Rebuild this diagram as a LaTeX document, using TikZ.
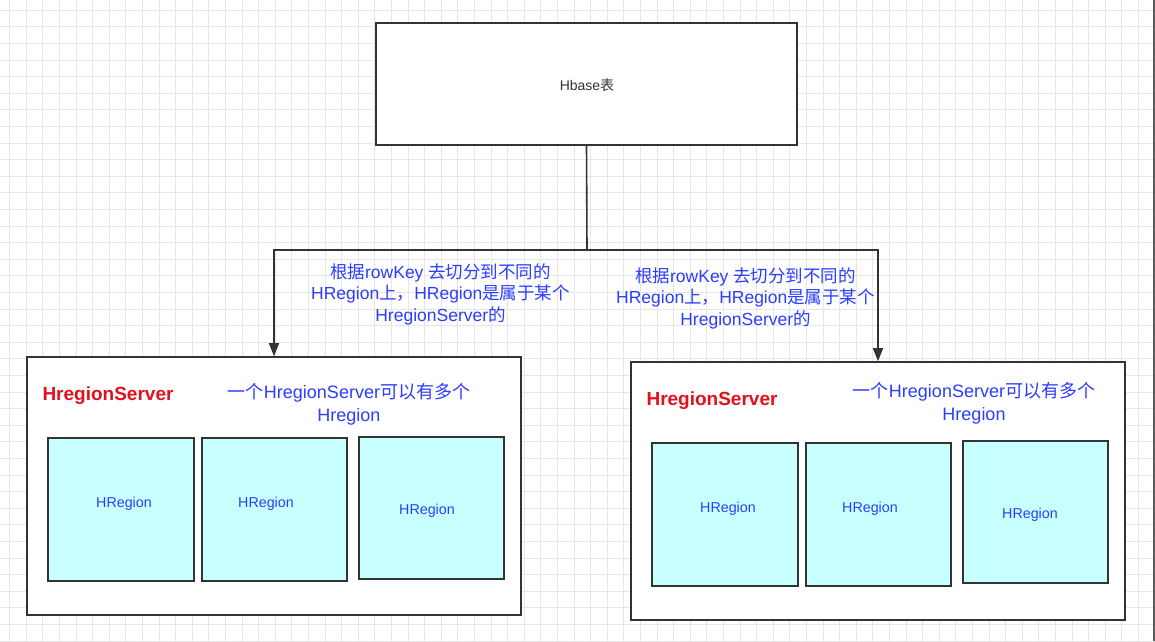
\documentclass[tikz,border=0pt]{standalone}
\usepackage{fontspec}
\setmainfont{Liberation Sans}
\newfontfamily\cjk{Noto Sans CJK SC}
\usetikzlibrary{arrows.meta}

\definecolor{regfill}{HTML}{C8FFFF}
\definecolor{noteblue}{HTML}{2B3DFF}
\definecolor{srvred}{HTML}{E3101E}
\definecolor{edgegray}{HTML}{333333}
\definecolor{gridgray}{HTML}{E6E6E6}

\tikzset{
  box/.style={draw=edgegray, line width=1.6pt, inner sep=0pt},
  srvbox/.style={box, fill=white, minimum width=494pt, minimum height=258pt},
  regbox/.style={box, fill=regfill, minimum width=145pt, minimum height=143pt},
  regtxt/.style={font={\fontsize{14.3}{16}\selectfont}, noteblue},
  note/.style={font={\fontsize{17.5}{21.5}\selectfont}, noteblue, align=center},
  srvnote/.style={font={\fontsize{18}{23}\selectfont}, noteblue, align=center},
  srvname/.style={font={\fontsize{19}{22}\selectfont\bfseries}, srvred},
  conn/.style={draw=edgegray, line width=1.6pt, -{Triangle[length=13pt,width=10pt]}},
  gridln/.style={gridgray, line width=0.6pt}
}

\begin{document}
\begin{tikzpicture}[x=1pt, y=-1pt]
    \fill[white] (0,0) rectangle (1155,641);
    \useasboundingbox (0,0) rectangle (1155,641);
    % background grid
    \foreach \gx in {9.5,26.1,...,1150} \draw[gridln] (\gx,0) -- (\gx,641);
    \foreach \gy in {10,26.6,...,641} \draw[gridln] (0,\gy) -- (1155,\gy);
    \draw[black!65, line width=2pt] (1154,0) -- (1154,641);

    % table
    \node[box, fill=white, minimum width=421pt, minimum height=122pt] (hbase) at (586.5, 84) {};
    \node[font={\fontsize{14}{16}\selectfont}, black!80] (hbasetxt) at (587, 85) {Hbase{\cjk 表}};

    % region servers
    \node[srvbox] (rs1) at (274, 486) {};
    \node[srvbox] (rs2) at (878, 491) {};

    \node[srvname] (name1) at (108, 396) {HregionServer};
    \node[srvname] (name2) at (712, 401) {HregionServer};
    \node[srvnote] (cnt1) at (349, 404) {{\cjk 一个}HregionServer{\cjk 可以有多个}\\Hregion};
    \node[srvnote] (cnt2) at (974, 403) {{\cjk 一个}HregionServer{\cjk 可以有多个}\\Hregion};

    % regions
    \node[regbox, minimum width=146pt] (r11) at (121, 509.5) {};
    \node[regbox] (r12) at (274.5, 509.5) {};
    \node[regbox, minimum height=142pt] (r13) at (431.5, 508) {};
    \node[regbox, minimum width=146pt] (r21) at (725, 514.5) {};
    \node[regbox] (r22) at (878.5, 514.5) {};
    \node[regbox, minimum height=142pt] (r23) at (1035.5, 512) {};

    \node[regtxt] (t11) at (124, 503.5) {HRegion};
    \node[regtxt] (t12) at (266, 503.5) {HRegion};
    \node[regtxt] (t13) at (427, 510.5) {HRegion};
    \node[regtxt] (t21) at (728, 508.5) {HRegion};
    \node[regtxt] (t22) at (870, 508.5) {HRegion};
    \node[regtxt] (t23) at (1030, 514.5) {HRegion};

    % split
    \coordinate (split) at (587, 250);
    \draw[conn] (hbase.south) -- (split) -| (rs1.north);
    \draw[conn] (split) -| (rs2.north);

    \node[note] (note1) at (440.5, 294) {{\cjk 根据}rowKey {\cjk 去切分到不同的}\\HRegion{\cjk 上，}HRegion{\cjk 是属于某个}\\HregionServer{\cjk 的}};
    \node[note] (note2) at (745.5, 298) {{\cjk 根据}rowKey {\cjk 去切分到不同的}\\HRegion{\cjk 上，}HRegion{\cjk 是属于某个}\\HregionServer{\cjk 的}};
\end{tikzpicture}
\end{document}
